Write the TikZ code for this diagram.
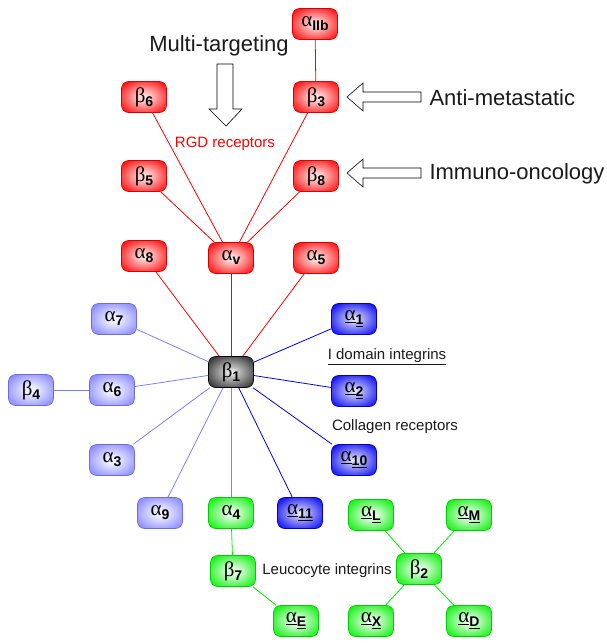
\documentclass[tikz,border=0pt]{standalone}
\usepackage{fontspec}
\setmainfont{Liberation Sans}
\newfontfamily\gk{Liberation Serif}
\newcommand\nlab[2]{{\gk\fontsize{21}{21}\selectfont #1}\raisebox{-4pt}{\fontsize{14}{14}\selectfont\bfseries #2}}
\newcommand\ulab[2]{{\gk\fontsize{21}{21}\selectfont\underline{#1}}\raisebox{-4pt}{\fontsize{14}{14}\selectfont\bfseries\underline{#2}}}
\definecolor{cred}{HTML}{FF0000}
\definecolor{clb}{HTML}{8080FF}
\definecolor{cbl}{HTML}{0000F0}
\definecolor{cgr}{HTML}{00F000}
\definecolor{txt}{HTML}{1A1A1A}
\pgfdeclareradialshading{softred}{\pgfpoint{0bp}{0bp}}{color(0bp)=(red!5!white); color(8bp)=(red!25!white); color(34bp)=(red); color(100bp)=(red)}
\pgfdeclareradialshading{softlb}{\pgfpoint{0bp}{0bp}}{color(0bp)=(clb!5!white); color(8bp)=(clb!20!white); color(34bp)=(clb); color(100bp)=(clb)}
\pgfdeclareradialshading{softbl}{\pgfpoint{0bp}{0bp}}{color(0bp)=(cbl!5!white); color(8bp)=(cbl!30!white); color(34bp)=(cbl); color(100bp)=(cbl)}
\pgfdeclareradialshading{softgr}{\pgfpoint{0bp}{0bp}}{color(0bp)=(cgr!5!white); color(8bp)=(cgr!20!white); color(34bp)=(cgr); color(100bp)=(cgr)}
\pgfdeclareradialshading{softbk}{\pgfpoint{0bp}{0bp}}{color(0bp)=(white); color(8bp)=(black!25); color(36bp)=(black!90); color(100bp)=(black)}
\tikzset{
  nd/.style={rounded corners=7pt, minimum width=45pt, minimum height=31pt, inner sep=0pt, line width=0.6pt, text=black},
  rn/.style={nd, draw=cred!85!black, shading=softred},
  ln/.style={nd, draw=clb!85!black, shading=softlb},
  bn/.style={nd, draw=cbl!80!black, shading=softbl},
  gn/.style={nd, draw=cgr!85!black, shading=softgr},
  kn/.style={nd, draw=black, shading=softbk},
  re/.style={draw=cred, line width=0.8pt},
  le/.style={draw=clb, line width=0.8pt},
  be/.style={draw=cbl, line width=0.8pt},
  ge/.style={draw=cgr, line width=0.8pt},
  big/.style={font=\fontsize{22}{22}\selectfont, text=txt},
  small/.style={font=\fontsize{15}{15}\selectfont, text=txt},
  blockarrow/.style={draw=black, fill=white, line width=0.6pt},
}
\begin{document}
\begin{tikzpicture}[x=1pt,y=-1pt]
\useasboundingbox (0,0) rectangle (606,643);
% red nodes
\node[rn] (aIIb) at (315,24) {\nlab{α}{IIb}};
\node[rn] (b6) at (144,97) {\nlab{β}{6}};
\node[rn] (b3) at (316,97) {\nlab{β}{3}};
\node[rn] (b5) at (144,176) {\nlab{β}{5}};
\node[rn] (b8) at (316,176) {\nlab{β}{8}};
\node[rn] (a8) at (144,256) {\nlab{α}{8}};
\node[rn] (av) at (231,258) {\nlab{α}{v}};
\node[rn] (a5) at (316,258) {\nlab{α}{5}};
% center
\node[kn] (b1) at (231,372) {\nlab{β}{1}};
% light blue
\node[ln] (a7) at (114,319) {\nlab{α}{7}};
\node[ln] (b4) at (31,390) {\nlab{β}{4}};
\node[ln] (a6) at (112,390) {\nlab{α}{6}};
\node[ln] (a3) at (112,460) {\nlab{α}{3}};
\node[ln] (a9) at (160,513) {\nlab{α}{9}};
% blue
\node[bn] (a1) at (354,319) {\ulab{α}{1}};
\node[bn] (a2) at (354,391) {\ulab{α}{2}};
\node[bn] (a10) at (354,460) {\ulab{α}{10}};
\node[bn] (a11) at (300,513) {\ulab{α}{11}};
% green
\node[gn] (a4) at (231,513) {\nlab{α}{4}};
\node[gn] (b7) at (233,571) {\nlab{β}{7}};
\node[gn] (aE) at (296,621) {\ulab{α}{E}};
\node[gn] (aL) at (371,515) {\ulab{α}{L}};
\node[gn] (aM) at (469,515) {\ulab{α}{M}};
\node[gn] (b2) at (419,569) {\nlab{β}{2}};
\node[gn] (aX) at (371,621) {\ulab{α}{X}};
\node[gn] (aD) at (469,621) {\ulab{α}{D}};
% labels
\node[big] (mt) at (219,46) {Multi-targeting};
\node[big, anchor=west] (am) at (426,98) {Anti-metastatic};
\node[big, anchor=west] (io) at (426,174) {Immuno-oncology};
\node[small, text=cred] (rgd) at (225,144) {RGD receptors};
\node[small] (idi) at (387,357) {\underline{I domain integrins}};
\node[small] (col) at (395,427) {Collagen receptors};
\node[small] (leu) at (327,571) {Leucocyte integrins};
% block arrows
\draw[blockarrow] (217,64) -- (233,64) -- (233,109) -- (242,109) -- (226,126) -- (209,109) -- (217,109) -- cycle;
\draw[blockarrow] (421,92) -- (363,92) -- (363,83) -- (347,97) -- (363,111) -- (363,102) -- (421,102) -- cycle;
\draw[blockarrow] (421,168) -- (363,168) -- (363,159) -- (347,173) -- (363,187) -- (363,178) -- (421,178) -- cycle;
% edges
\draw[re] (aIIb) -- (b3);
\draw[re] (b6) -- (av);
\draw[re] (b3) -- (av);
\draw[re] (b5) -- (av);
\draw[re] (b8) -- (av);
\draw[re] (av) -- (b1);
\draw[re] (a8) -- (b1);
\draw[re] (a5) -- (b1);
\draw[le] (a7) -- (b1);
\draw[le] (a6) -- (b1);
\draw[le] (a3) -- (b1);
\draw[le] (a9) -- (b1);
\draw[le] (b4) -- (a6);
\draw[be] (a1) -- (b1);
\draw[be] (a2) -- (b1);
\draw[be] (a10) -- (b1);
\draw[be] (a11) -- (b1);
\draw[ge] (a4) -- (b1);
\draw[ge] (a4) -- (b7);
\draw[ge] (b7) -- (aE);
\draw[ge] (b2) -- (aL);
\draw[ge] (b2) -- (aM);
\draw[ge] (b2) -- (aX);
\draw[ge] (b2) -- (aD);
\end{tikzpicture}
\end{document}
